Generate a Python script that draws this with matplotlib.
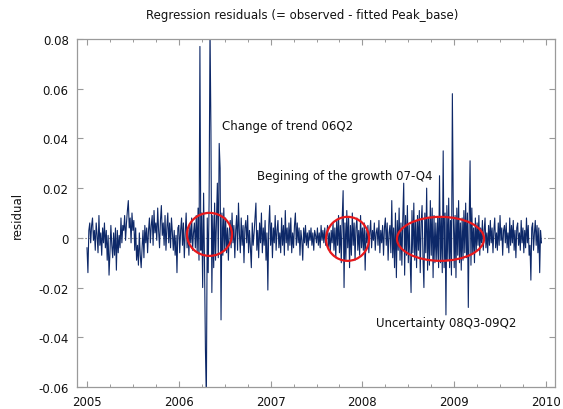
import numpy as np
import matplotlib
matplotlib.use("Agg")
import matplotlib.pyplot as plt
from matplotlib.patches import Ellipse

# ---------------- data (residuals, units of 0.001) ----------------
res_2005 = [-4, -14, 3, 6, -2, 5, 8, -1, 3, -5, 6, 1, -6, 9, -3, 2, -7, 4, -2, 6,
            -4, 3, -9, 1, -15, -6, 5, -3, -8, 2, -7, 4, -13, 3, -6, 1, -4, 8, -2, 5,
            3, 9, -1, 6, 11, 15, 4, 8, -2, 10, 3, 7, -5, 4, -9, -3, -11, 2, -7, -12,
            -4, 3, -8, 5, -2, 4, -6, 3, 8, -2, 5, 9, -3, 11, 2, 6, -1, 12, 3, -4,
            7, 13, 1, 6, -3, 9, -5, 4, 10, -2, 6, -4, 8, 2, -5, 3, -7, 1, -14, 4]
res_2006 = [5, -6, 3, 8, -3, 6, -8, 2, 10, -4, 3, -7, 5, -2, 8, -5, 2, 6, -4, 9,
            -6, 12, -9, 77, -5, 10, -20, 18, -10, -45, -65, 8, -14, 15, 85, 43, -22, 9, -12, 14,
            -9, 6, 22, -8, 38, 28, -33, 10, -7, 12, -5,
            8, -6, 4, -9, 3, 7, -4, 10, -2, 5, -8, 3, 9, -5, 14, 2, -6, 8, -3, 5,
            -10, 4, 7, -2, 9, -6, 3, -4, -12, 6, -3, 2, 8, 14, -5, 3, -8, 6, -2, 10,
            -6, 4, -3, 7, -9, 2, -21, 5, 13]
res_2007 = [-3, 6, -8, 4, -2, 9, -5, 3, 7, -4, 2, -6, 8, -3, 5, -7, 11, -2, 4, -5,
            6, -3, 8, -6, 2, -4, 5, 10, -3, 6, -2, 4, -7, 3, -1, -9, 4, -2, 5, -3,
            2, -4, 3, -1, 4, -3, 2, -5, 3, 1, -2, 4, -3, 2, -4, 5, -1, 3, -2, 4,
            -3, 1, 5, -4, 2, -6, 3, -2, 6, -5, 4, -8, 7, -3, 9, -6, 5, -10, 8, 19,
            -20, 6, -9, 11, -4, 8, -12, 5, -7, 10, -3, 6, -9, 4, 8, -5, 3, -7, 9, -4]
res_2008 = [4, -5, 6, -13, 3, -2, 5, -6, 2, 7, -4, 3, -1, 6, -5, 2, 4, -3, 7, -6,
            3, -2, 5, -7, 4, 8, -3, 6, -9, 2, 5, -6, 15, -8, 4, -12, 10, -16, 7, -5,
            12, -9, 6, -11, 8, 22, -15, 9, -7, 13, -10, 5, -8, -22, 11, -6, 14, -9, 7, -12,
            9, -5, 11, -14, 6, 13, -8, -20, 10, -6, 20, -13, 8, -11, 15, -7, 12, -16, 9, -10,
            6, -9, 8, -12, 25, -10, 8, -14, 35, -12, 10, -31, 13, -9, 16, -12, 7, -15, 58, 11]
res_2009 = [-12, 9, -16, 12, -7, 15, -10, 6, -13, 8, -9, 11, -6, 14, -8, 10, -28, 7, 31, -11,
            12, -6, 4, -10, 8, -5, 6, -3, 9, -7, 4, -2, 7, -5, 3, 8, -4, 2, -6, 5,
            -3, 7, -2, 4, -6, 3, 8, -4, 2, -5, 6, -3, 9, -1, 4, -7, 3, 5, -2, 6,
            -4, 2, -6, 8, -3, 5, -2, 7, -5, 3, -8, 4, 6, -3, 2, -5, 7, -2, 4, -6,
            3, -4, 8, -2, 5, -7, -3, -17, 4, 6, -5, 2, 7, -3, 5, -6, 4, -14, 3, -2]
years = [2005, 2006, 2007, 2008, 2009]
year_span = [1.0, 1.0, 1.0, 1.0, 0.96]   # fraction of each year covered by the sample

x_ticks = [2005, 2006, 2007, 2008, 2009, 2010]
x_tick_labels = ["2005", "2006", "2007", "2008", "2009", "2010"]
y_ticks = [-0.06, -0.04, -0.02, 0.0, 0.02, 0.04, 0.06, 0.08]
y_tick_labels = ["-0.06", "-0.04", "-0.02", "0", "0.02", "0.04", "0.06", "0.08"]

title = "Regression residuals (= observed - fitted Peak_base)"
ylabel = "residual"

# annotations: (text, x, y)
notes = [("Change of trend 06Q2", 2006.47, 0.0454),
         ("Begining of the growth 07-Q4", 2006.852, 0.0250),
         ("Uncertainty 08Q3-09Q2", 2008.148, -0.0342)]
# ellipses: (center x, center y, width, height)
ellipses = [(2006.334, 0.0014, 0.490, 0.0173),
            (2007.838, -0.0004, 0.468, 0.0177),
            (2008.851, -0.0004, 0.948, 0.0177)]

# ---------------- build series ----------------
series = [res_2005, res_2006, res_2007, res_2008, res_2009]
t_parts, v_parts = [], []
for yr, span, vals in zip(years, year_span, series):
    n = len(vals)
    t_parts.append(yr + span * np.arange(n) / n)
    v_parts.append(np.array(vals, dtype=float) * 0.001)
t = np.concatenate(t_parts)
v = np.concatenate(v_parts)

plt.rcParams['axes.unicode_minus'] = False
plt.rcParams['font.family'] = ['DejaVu Sans']
FS = 8.5

fig = plt.figure(figsize=(5.63, 4.10), dpi=100)
ax = fig.add_axes([77 / 563, 1 - 388 / 410, (555 - 77) / 563, (388 - 40) / 410])

ax.axhline(0, color='#8c8c8c', lw=0.8, linestyle=(0, (1.5, 2)), zorder=1)
ax.plot(t, v, color='#0d2868', lw=0.8, zorder=2)

for (cx, cy, w, h) in ellipses:
    ax.add_patch(Ellipse((cx, cy), w, h, fill=False, edgecolor='#e8191c', lw=1.6, zorder=3))

for (txt, tx, ty) in notes:
    ax.text(tx, ty, txt, fontsize=FS, ha='left', va='center', color='#111111', zorder=4)

ax.set_xlim(2004.891, 2010.098)
ax.set_ylim(-0.06, 0.08)

ax.set_xticks(x_ticks)
ax.set_xticklabels(x_tick_labels)
ax.set_xticks([y + q / 4 for y in range(2005, 2010) for q in (1, 2, 3)], minor=True)
ax.set_yticks(y_ticks)
ax.set_yticklabels(y_tick_labels)

spine_col = '#9a9a9a'
for s in ax.spines.values():
    s.set_color(spine_col)
    s.set_linewidth(0.9)
ax.tick_params(axis='both', which='major', direction='in', length=4, width=0.8,
               color=spine_col, labelsize=FS, labelcolor='#111111')
ax.tick_params(axis='x', which='major', top=True, pad=6)
ax.tick_params(axis='x', which='minor', direction='in', top=True, length=2.5,
               width=0.7, color=spine_col)
ax.tick_params(axis='y', which='major', right=True, pad=6)

fig.text(302 / 563, 1 - 16 / 410, title, ha='center', va='center', fontsize=8.5, color='#111111')
fig.text(17 / 563, 1 - 215 / 410, ylabel, ha='center', va='center', rotation=90,
         fontsize=FS, color='#111111')

fig.savefig("out.png", dpi=100)
